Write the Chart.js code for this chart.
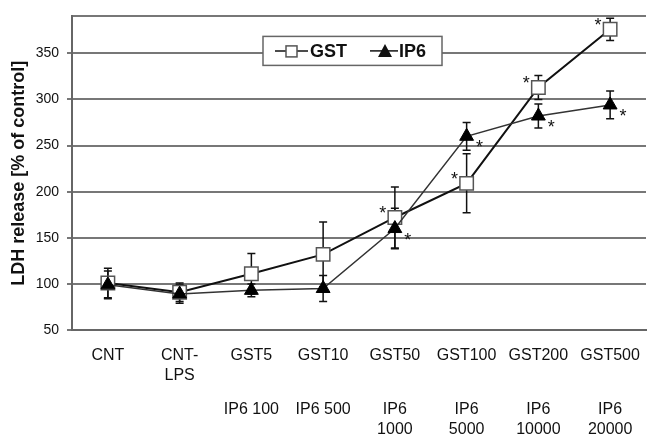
<!DOCTYPE html>
<html>
<head>
<meta charset="utf-8">
<title>LDH release</title>
<script src="https://cdn.jsdelivr.net/npm/chart.js@4.4.1/dist/chart.umd.min.js"></script>
<style>
  html, body { margin: 0; padding: 0; background: #ffffff; }
  #wrap { width: 657px; height: 438px; }
</style>
</head>
<body>
<div id="wrap"><canvas id="graph"></canvas></div>
<script>
  // data
  const categories = [['CNT'], ['CNT-', 'LPS'], ['GST5'], ['GST10'], ['GST50'], ['GST100'], ['GST200'], ['GST500']];
  const ip6Labels = [[''], [''], ['IP6 100'], ['IP6 500'], ['IP6', '1000'], ['IP6', '5000'], ['IP6', '10000'], ['IP6', '20000']];
  const gstValues = [101, 91, 111, 132, 172, 209, 313, 376];
  const gstErrors = [16, 10, 22, 35, 33, 32, 13, 12];
  const gstStars = [false, false, false, false, true, true, true, true];
  const ip6Values = [99, 89, 93, 95, 160, 260, 282, 294];
  const ip6Errors = [15, 10, 7, 14, 22, 15, 13, 15];
  const ip6Stars = [false, false, false, false, true, true, true, true];
  const yTicks = [50, 100, 150, 200, 250, 300, 350];
  const yMax = 390;

  const FONT = "'Liberation Sans', Arial, sans-serif";

  // error bars under the markers, asterisks above
  const errorBars = {
    id: 'errorBars',
    beforeDatasetsDraw(chart) {
      const ctx = chart.ctx;
      const y = chart.scales.y;
      ctx.save();
      ctx.strokeStyle = '#111';
      ctx.lineWidth = 1.5;
      chart.data.datasets.forEach(function (ds, i) {
        const meta = chart.getDatasetMeta(i);
        meta.data.forEach(function (pt, j) {
          const e = ds.errors[j];
          if (!e) return;
          const top = y.getPixelForValue(ds.data[j] + e);
          const bot = y.getPixelForValue(ds.data[j] - e);
          ctx.beginPath();
          ctx.moveTo(pt.x, top); ctx.lineTo(pt.x, bot);
          ctx.moveTo(pt.x - 4, top); ctx.lineTo(pt.x + 4, top);
          ctx.moveTo(pt.x - 4, bot); ctx.lineTo(pt.x + 4, bot);
          ctx.stroke();
        });
      });
      ctx.restore();
    },
    afterDatasetsDraw(chart) {
      const ctx = chart.ctx;
      ctx.save();
      ctx.fillStyle = '#111';
      ctx.font = '18px ' + FONT;
      ctx.textAlign = 'center';
      ctx.textBaseline = 'alphabetic';
      chart.data.datasets.forEach(function (ds, i) {
        const meta = chart.getDatasetMeta(i);
        meta.data.forEach(function (pt, j) {
          if (!ds.stars[j]) return;
          const dx = ds.starSide === 'left' ? -12 : 13;
          const dy = ds.starSide === 'left' ? -8 : 7;
          ctx.fillText('*', pt.x + dx, pt.y + dy + 10);
        });
      });
      ctx.restore();
    }
  };

  // boxed legend inside the plot
  const boxLegend = {
    id: 'boxLegend',
    afterDraw(chart) {
      const ctx = chart.ctx;
      const a = chart.chartArea;
      const x0 = a.left + 191, y0 = a.top + 20, w = 179, h = 29;
      const cy = y0 + h / 2;
      ctx.save();
      ctx.fillStyle = '#ffffff';
      ctx.fillRect(x0, y0, w, h);
      ctx.strokeStyle = '#666';
      ctx.lineWidth = 1.5;
      ctx.strokeRect(x0, y0, w, h);
      ctx.font = 'bold 18px ' + FONT;
      ctx.textBaseline = 'middle';
      ctx.textAlign = 'left';
      const ds = chart.data.datasets;
      // GST entry
      let lx = x0 + 12;
      ctx.strokeStyle = '#111';
      ctx.lineWidth = 1.5;
      ctx.beginPath(); ctx.moveTo(lx, cy); ctx.lineTo(lx + 33, cy); ctx.stroke();
      ctx.fillStyle = '#fff';
      ctx.strokeStyle = '#555';
      ctx.fillRect(lx + 11, cy - 5, 11, 11);
      ctx.strokeRect(lx + 11, cy - 5, 11, 11);
      ctx.fillStyle = '#111';
      ctx.fillText(ds[0].label, lx + 35, cy + 1);
      // IP6 entry
      lx = x0 + 107;
      ctx.strokeStyle = '#111';
      ctx.beginPath(); ctx.moveTo(lx, cy); ctx.lineTo(lx + 28, cy); ctx.stroke();
      ctx.beginPath();
      ctx.moveTo(lx + 15, cy - 7); ctx.lineTo(lx + 22, cy + 6); ctx.lineTo(lx + 8, cy + 6);
      ctx.closePath(); ctx.fill();
      ctx.fillText(ds[1].label, lx + 29, cy + 1);
      ctx.restore();
    }
  };

  const tickFont = { family: FONT, size: 16, lineHeight: 1.25 };

  new Chart(document.getElementById('graph'), {
    type: 'line',
    data: {
      labels: categories,
      datasets: [
        {
          label: 'GST',
          data: gstValues,
          errors: gstErrors,
          stars: gstStars,
          starSide: 'left',
          order: 1,
          borderColor: '#111',
          borderWidth: 2,
          pointStyle: 'rect',
          pointRadius: 9.5,
          pointBackgroundColor: '#ffffff',
          pointBorderColor: '#555',
          pointBorderWidth: 1.5,
          tension: 0
        },
        {
          label: 'IP6',
          data: ip6Values,
          errors: ip6Errors,
          stars: ip6Stars,
          starSide: 'right',
          order: 0,
          borderColor: '#333',
          borderWidth: 1.5,
          pointStyle: 'triangle',
          pointRadius: 8,
          pointBackgroundColor: '#000',
          pointBorderColor: '#000',
          pointBorderWidth: 1,
          tension: 0
        }
      ]
    },
    options: {
      responsive: true,
      maintainAspectRatio: false,
      animation: false,
      layout: { padding: { left: 0, right: 0, top: 14, bottom: 0 } },
      plugins: { legend: { display: false }, tooltip: { enabled: false } },
      scales: {
        x: {
          type: 'category',
          position: 'bottom',
          weight: 0,
          offset: true,
          afterFit: function (s) { s.height = 54; },
          grid: { display: false, drawTicks: false },
          border: { display: true, color: '#666', width: 2 },
          ticks: { padding: 16, maxRotation: 0, minRotation: 0, autoSkip: false, color: '#111', font: tickFont }
        },
        x2: {
          type: 'category',
          position: 'bottom',
          weight: 1,
          labels: ip6Labels,
          offset: true,
          afterFit: function (s) { s.height = 54; },
          grid: { display: false, drawTicks: false },
          border: { display: false },
          ticks: { padding: 16, maxRotation: 0, minRotation: 0, autoSkip: false, color: '#111', font: tickFont }
        },
        y: {
          min: 50,
          max: yMax,
          afterBuildTicks: function (s) {
            s.ticks = yTicks.concat([yMax]).map(function (v) { return { value: v }; });
          },
          afterFit: function (s) { s.width = 72; },
          grid: {
            color: '#777',
            lineWidth: 2,
            tickLength: 5,
            tickColor: function (c) { return c.tick && c.tick.value === yMax ? 'rgba(0,0,0,0)' : '#777'; }
          },
          border: { color: '#666', width: 2 },
          ticks: {
            padding: 8,
            color: '#111',
            font: { family: FONT, size: 14 },
            callback: function (v) { return v === yMax ? '' : v; }
          },
          title: {
            display: true,
            text: 'LDH release [% of control]',
            color: '#111',
            font: { family: FONT, size: 18, weight: 'bold' },
            padding: { top: 8, bottom: 0 }
          }
        }
      }
    },
    plugins: [errorBars, boxLegend]
  });
</script>
</body>
</html>
